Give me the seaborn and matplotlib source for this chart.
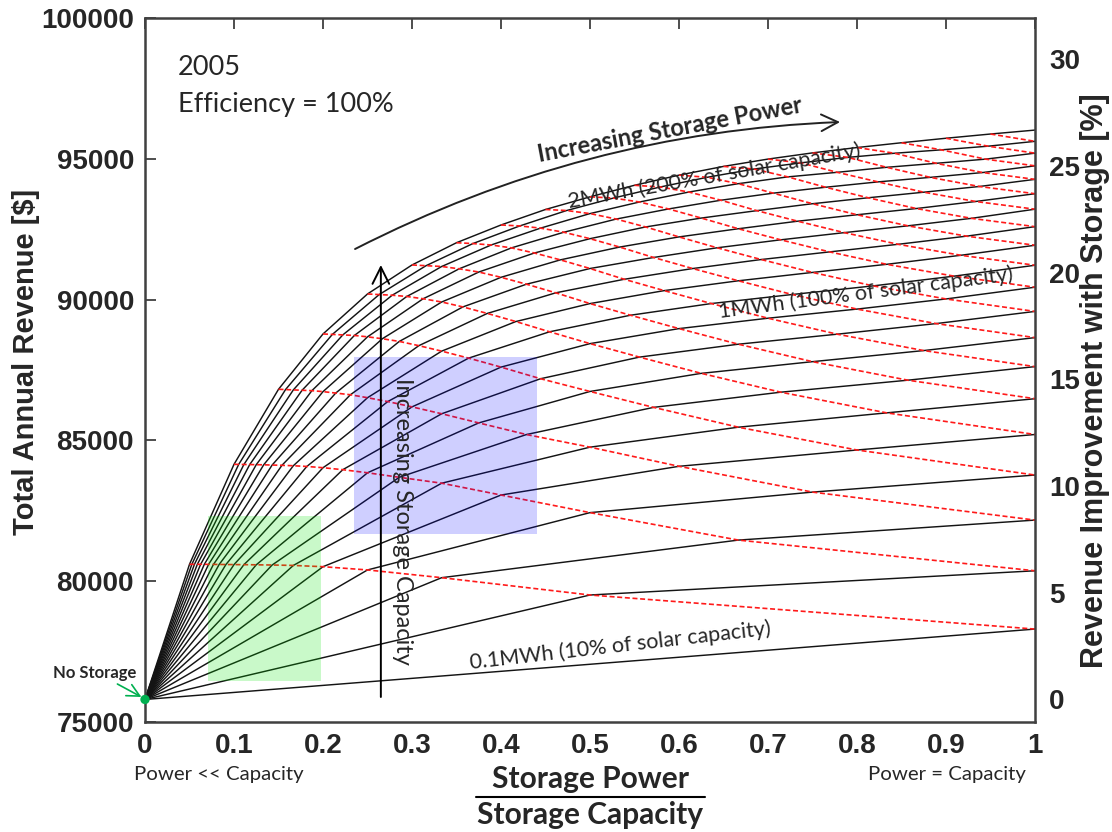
import numpy as np
import pandas as pd
import matplotlib
matplotlib.use("Agg")
import matplotlib.pyplot as plt
import seaborn as sns
from matplotlib.patches import Rectangle

# ---------------- data ----------------
capacities = [2.0, 1.9, 1.8, 1.7, 1.6, 1.5, 1.4, 1.3, 1.2, 1.1,
              1.0, 0.9, 0.8, 0.7, 0.6, 0.5, 0.4, 0.3, 0.2, 0.1]   # MWh
powers = [0.1, 0.2, 0.3, 0.4, 0.5, 0.6, 0.7, 0.8, 0.9, 1.0,
          1.1, 1.2, 1.3, 1.4, 1.5, 1.6, 1.7, 1.8, 1.9, 2.0]       # MW
base_revenue = 75800   # no storage

# revenue for each storage power, listed for capacity 2.0 MWh down to capacity == power
rev_p01 = [80600, 80600, 80600, 80600, 80600, 80600, 80598, 80597, 80595, 80592,
           80590, 80587, 80582, 80575, 80560, 80515, 80400, 80125, 79510, 78300]
rev_p02 = [84150, 84148, 84145, 84142, 84138, 84133, 84125, 84115, 84100, 84075,
           84030, 83960, 83850, 83690, 83480, 83060, 82435, 81460, 80370]
rev_p03 = [86815, 86805, 86793, 86780, 86766, 86732, 86681, 86621, 86516, 86379,
           86191, 85946, 85621, 85208, 84760, 84080, 83164, 82170]
rev_p04 = [88780, 88764, 88746, 88727, 88678, 88610, 88515, 88364, 88170, 87922,
           87603, 87190, 86738, 86173, 85469, 84659, 83770]
rev_p05 = [90200, 90179, 90156, 90111, 90030, 89915, 89740, 89509, 89221, 88857,
           88437, 87958, 87381, 86712, 85978, 85210]
rev_p06 = [91230, 91204, 91176, 91093, 90979, 90792, 90547, 90241, 89859, 89445,
           88970, 88416, 87796, 87138, 86480]
rev_p07 = [92020, 91990, 91939, 91837, 91655, 91411, 91104, 90722, 90319, 89860,
           89339, 88772, 88190, 87620]
rev_p08 = [92650, 92616, 92538, 92392, 92163, 91866, 91496, 91103, 90668, 90181,
           89663, 89148, 88650]
rev_p09 = [93200, 93163, 93055, 92860, 92580, 92226, 91840, 91423, 90965, 90487,
           90023, 89580]
rev_p10 = [93650, 93606, 93466, 93219, 92896, 92516, 92123, 91694, 91253, 90833, 90440]
rev_p11 = [94060, 93999, 93820, 93529, 93159, 92784, 92378, 91964, 91574, 91220]
rev_p12 = [94420, 94343, 94117, 93780, 93405, 93013, 92620, 92253, 91930]
rev_p13 = [94730, 94637, 94358, 93990, 93616, 93234, 92886, 92590]
rev_p14 = [94990, 94856, 94520, 94180, 93814, 93484, 93210]
rev_p15 = [95210, 95050, 94698, 94341, 94017, 93760]
rev_p16 = [95400, 95197, 94840, 94512, 94270]
rev_p17 = [95570, 95318, 94988, 94750]
rev_p18 = [95730, 95448, 95200]
rev_p19 = [95880, 95620]
rev_p20 = [96020]

revenue_by_power = [rev_p01, rev_p02, rev_p03, rev_p04, rev_p05, rev_p06, rev_p07,
                    rev_p08, rev_p09, rev_p10, rev_p11, rev_p12, rev_p13, rev_p14,
                    rev_p15, rev_p16, rev_p17, rev_p18, rev_p19, rev_p20]

x_ticks = [0, 0.1, 0.2, 0.3, 0.4, 0.5, 0.6, 0.7, 0.8, 0.9, 1]
x_tick_labels = ["0", "0.1", "0.2", "0.3", "0.4", "0.5", "0.6", "0.7", "0.8", "0.9", "1"]
y_ticks = [75000, 80000, 85000, 90000, 95000, 100000]
pct_ticks = [0, 5, 10, 15, 20, 25, 30]

# ---------------- tables ----------------
rows = []
for p, revs in zip(powers, revenue_by_power):
    for c, r in zip(capacities, revs):
        rows.append(dict(power=p, capacity=c, ratio=round(p / c, 6), revenue=r))
grid = pd.DataFrame(rows)
origin = pd.DataFrame(dict(power=0.0, capacity=capacities, ratio=0.0, revenue=base_revenue))
black_df = pd.concat([origin, grid], ignore_index=True).sort_values(["capacity", "ratio"])
red_df = grid[grid.groupby("power")["power"].transform("size") > 1].sort_values(["power", "ratio"])

# ---------------- figure ----------------
sns.set_style("white")
plt.rcParams["font.family"] = ["Liberation Sans", "DejaVu Sans"]
CAL = ["Lato", "DejaVu Sans"]
ARB = ["Liberation Sans", "DejaVu Sans"]

fig = plt.figure(figsize=(11.12, 8.32), dpi=100)
ax = fig.add_axes([145 / 1112, 1 - 722 / 832, 890 / 1112, 704 / 832])

sns.lineplot(data=black_df, x="ratio", y="revenue", units="capacity", estimator=None,
             sort=False, color="#141414", lw=1.05, ax=ax, legend=False, zorder=2)
sns.lineplot(data=red_df, x="ratio", y="revenue", units="power", estimator=None,
             sort=False, color="#ff1a1a", lw=1.2, linestyle=(0, (3.0, 1.6)),
             ax=ax, legend=False, zorder=2.5)
sns.scatterplot(x=[0.0], y=[base_revenue], color="#00b050", s=45, edgecolor="none",
                ax=ax, zorder=6, clip_on=False, legend=False)

ax.set_xlim(0, 1)
ax.set_ylim(75000, 100000)
ax.set_xticks(x_ticks)
ax.set_xticklabels(x_tick_labels, fontfamily=ARB, fontweight="bold", fontsize=20)
ax.set_yticks(y_ticks)
ax.set_yticklabels([str(v) for v in y_ticks], fontfamily=ARB, fontweight="bold", fontsize=20)
ax.tick_params(direction="in", length=8, width=1.3, top=True, right=True,
               color="#404040", pad=8)
ax.set_xlabel("")
ax.set_ylabel("")
for s in ax.spines.values():
    s.set_color("#404040")
    s.set_linewidth(1.8)

ax2 = ax.twinx()
ax2.set_ylim((75000 / base_revenue - 1) * 100, (100000 / base_revenue - 1) * 100)
ax2.set_yticks(pct_ticks)
ax2.set_yticklabels([str(v) for v in pct_ticks], fontfamily=ARB, fontweight="bold", fontsize=20)
ax2.tick_params(axis="y", length=0, pad=10)
for s in ax2.spines.values():
    s.set_visible(False)

# shaded regions
ax.add_patch(Rectangle((0.2345, 81670), 0.2059, 6290, facecolor=(0, 0, 1), alpha=0.19,
                       edgecolor="none", zorder=3))
ax.add_patch(Rectangle((0.0711, 76456), 0.1267, 5870, facecolor=(0, 0.9, 0), alpha=0.21,
                       edgecolor="none", zorder=3))

# text annotations
ax.text(0.037, 98259, "2005", fontfamily=CAL, fontsize=19.5, ha="left", va="center")
ax.text(0.037, 96946, "Efficiency = 100%", fontfamily=CAL, fontsize=19.5, ha="left", va="center")

ax.text(0.590, 96022, "Increasing Storage Power", fontfamily=CAL, fontweight="bold",
        fontsize=17, rotation=10.7, rotation_mode="anchor", ha="center", va="center")
ax.annotate("", xy=(0.781, 96306), xytext=(0.236, 91796),
            arrowprops=dict(arrowstyle="->,head_length=0.6,head_width=0.3", color="#222222",
                            lw=1.4, shrinkA=0, shrinkB=0, mutation_scale=20,
                            connectionstyle="arc3,rad=-0.11"))

ax.text(0.640, 94389, "2MWh (200% of solar capacity)", fontfamily=CAL, fontsize=15.4,
        rotation=10.0, rotation_mode="anchor", ha="center", va="center")
ax.text(0.810, 90234, "1MWh (100% of solar capacity)", fontfamily=CAL, fontsize=15.4,
        rotation=7.3, rotation_mode="anchor", ha="center", va="center")
ax.text(0.534, 77699, "0.1MWh (10% of solar capacity)", fontfamily=CAL, fontsize=15.5,
        rotation=6.5, rotation_mode="anchor", ha="center", va="center")

ax.annotate("", xy=(0.265, 91229), xytext=(0.265, 75888),
            arrowprops=dict(arrowstyle="->,head_length=0.6,head_width=0.3", color="black",
                            lw=1.4, shrinkA=0, shrinkB=0, mutation_scale=20))
ax.text(0.289, 82138, "Increasing Storage Capacity", fontfamily=CAL, fontsize=17,
        rotation=-90, rotation_mode="anchor", ha="center", va="center", zorder=5)

ax.text(-0.0562, 76740, "No Storage", fontfamily=CAL, fontweight="bold", fontsize=12,
        ha="center", va="center", clip_on=False)
ax.annotate("", xy=(-0.004, 75888), xytext=(-0.031, 76349), annotation_clip=False,
            arrowprops=dict(arrowstyle="->,head_length=0.5,head_width=0.25", color="#00b050",
                            lw=1.2, shrinkA=0, shrinkB=0, mutation_scale=18))

# bottom labels
ax.text(0.083, -0.074, "Power << Capacity", transform=ax.transAxes, fontfamily=CAL,
        fontsize=14.7, ha="center", va="center")
ax.text(0.901, -0.074, "Power = Capacity", transform=ax.transAxes, fontfamily=CAL,
        fontsize=14.7, ha="center", va="center")
ax.text(0.5, -0.081, "Storage Power", transform=ax.transAxes, fontfamily=CAL,
        fontweight="bold", fontsize=21.5, ha="center", va="center")
ax.plot([0.372, 0.629], [-0.1065, -0.1065], transform=ax.transAxes, clip_on=False,
        color="black", lw=1.5)
ax.text(0.5, -0.132, "Storage Capacity", transform=ax.transAxes, fontfamily=CAL,
        fontweight="bold", fontsize=21.5, ha="center", va="center")

fig.text(26 / 1112, 1 - 362 / 832, "Total Annual Revenue [$]", fontfamily=ARB,
         fontweight="bold", fontsize=21, rotation=90, ha="center", va="center")
fig.text(1095 / 1112, 1 - 381 / 832, "Revenue Improvement with Storage [%]", fontfamily=ARB,
         fontweight="bold", fontsize=22, rotation=90, ha="center", va="center")

fig.savefig("out.png", dpi=100, facecolor="white")
